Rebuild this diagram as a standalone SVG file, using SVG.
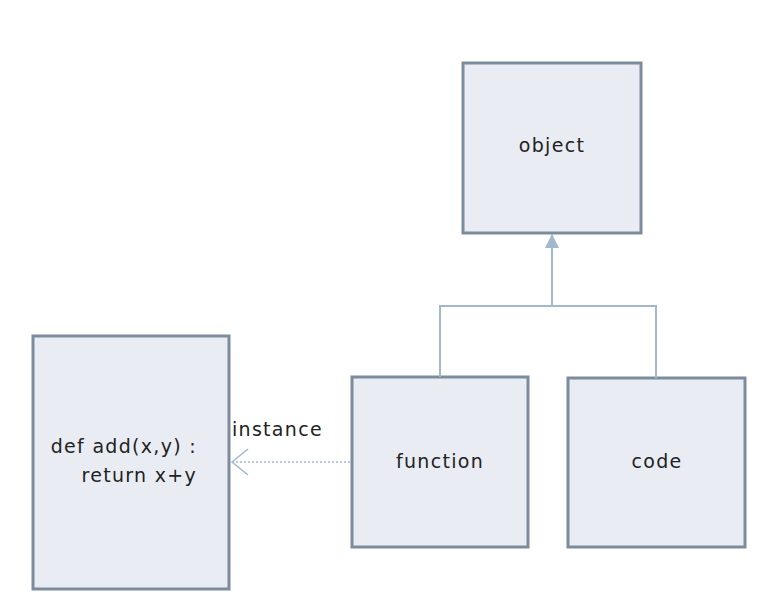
<svg xmlns="http://www.w3.org/2000/svg" width="776" height="608" viewBox="0 0 776 608">
<style>
.box{fill:#e9edf3;stroke:#7d8c9c;stroke-width:3}
.lbl{font-family:"DejaVu Sans",sans-serif;font-size:19px;letter-spacing:1.3px;fill:#222}
.conn{fill:none;stroke:#a3b7ce;stroke-width:2}
</style>
<defs>
<marker id="tri" markerWidth="14" markerHeight="16" refX="14" refY="8" orient="auto" markerUnits="userSpaceOnUse">
<path d="M0,1 L14,8 L0,15 Z" fill="#a3b7ce"/>
</marker>
<marker id="open" markerWidth="20" markerHeight="30" refX="17" refY="14" orient="auto" markerUnits="userSpaceOnUse">
<path d="M1,1 L17,14 L1,27" fill="none" stroke="#a3b7ce" stroke-width="1.5"/>
</marker>
</defs>
<rect width="776" height="608" fill="#fff"/>
<g id="object">
<rect class="box" x="463" y="63" width="178" height="170"/>
<text class="lbl" x="552" y="152" text-anchor="middle">object</text>
</g>
<g id="def">
<rect class="box" x="33" y="336" width="196" height="253"/>
<text class="lbl" x="197" y="453" text-anchor="end">def add(x,y) :</text>
<text class="lbl" x="197" y="482" text-anchor="end">return x+y</text>
</g>
<g id="function">
<rect class="box" x="352" y="377" width="176" height="170"/>
<text class="lbl" x="440" y="468" text-anchor="middle">function</text>
</g>
<g id="code">
<rect class="box" x="568" y="378" width="177" height="169"/>
<text class="lbl" x="657" y="468" text-anchor="middle">code</text>
</g>
<g id="connectors">
<path class="conn" d="M440,377 V306 H656 V378"/>
<path class="conn" d="M552,306 V234" marker-end="url(#tri)"/>
<path d="M350,462 H232" fill="none" stroke="#a3b7ce" stroke-width="1.5" stroke-dasharray="2,2" marker-end="url(#open)"/>
<text class="lbl" x="232" y="436">instance</text>
</g>
</svg>
